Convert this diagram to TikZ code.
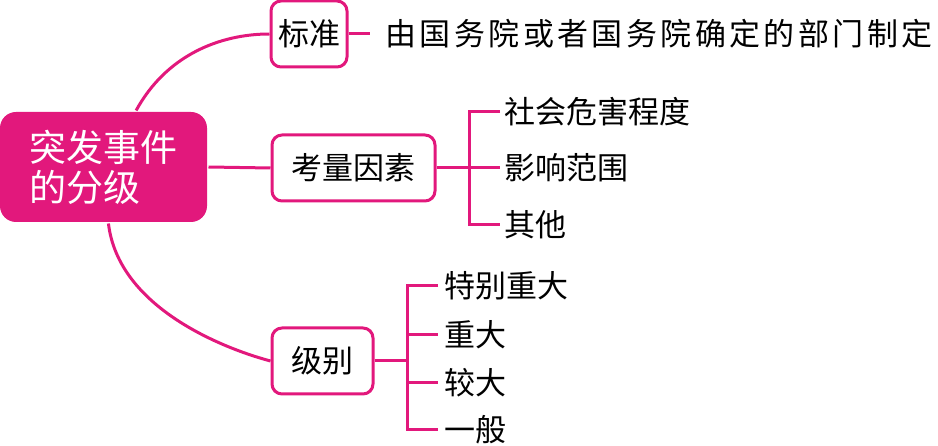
\documentclass[tikz,border=0pt]{standalone}
\usepackage{fontspec}
\newfontfamily\cjk{Noto Sans CJK SC}
\newfontfamily\cjkwide[LetterSpace=11]{Noto Sans CJK SC}
\usetikzlibrary{positioning}
\definecolor{rose}{HTML}{E2187C}

\begin{document}
\begin{tikzpicture}[x=1pt,y=-1pt,line width=3pt,draw=rose,
    topic/.style={draw=rose,rounded corners=10pt,fill=white,text=black,
      font=\cjk\fontsize{31}{36}\selectfont,inner sep=0pt,minimum height=66pt},
    leaf/.style={anchor=west,text=black,inner sep=0pt,
      font=\cjk\fontsize{31}{36}\selectfont}]
    \useasboundingbox (0,0) rectangle (938,446);

    % Root of the map
    \node[fill=rose,rounded corners=16pt,text=white,align=left,
      minimum width=207pt,minimum height=110pt,inner sep=0pt,
      font=\cjk\fontsize{37}{40}\selectfont] (root) at (103.5,167) {突发事件\\的分级};

    % Branch boxes
    \node[topic,minimum width=76pt] (std) at (309,34) {标准};
    \node[topic,minimum width=163pt] (fac) at (353.5,168) {考量因素};
    \node[topic,minimum width=101pt] (lvl) at (322.5,361) {级别};

    % Branches from the root
    \draw (root.60) .. controls +(30,-55) and +(-50,0) .. (std.west);
    \draw (root.east) -- (fac.west);
    \draw (root.-85) .. controls +(10,85) and +(-45,-12) .. (lvl.west);

    % Standard
    \node[leaf,font=\cjkwide\fontsize{31}{36}\selectfont] (rule) at (384,34) {由国务院或者国务院确定的部门制定};
    \draw (std.east) -- ([xshift=-14pt]rule.west);

    % Factors
    \node[leaf] (f1) at (503,112) {社会危害程度};
    \node[leaf] (f2) at (503,168) {影响范围};
    \node[leaf] (f3) at (503,225) {其他};
    \coordinate (fb) at (469,168);
    \draw (fac.east) -- (fb);
    \draw ([xshift=-3pt]f1.west) -- (f1.west -| fb) -- (f3.west -| fb) -- ([xshift=-3pt]f3.west);
    \draw (f2.west -| fb) -- ([xshift=-3pt]f2.west);

    % Levels
    \node[leaf] (l1) at (443,286) {特别重大};
    \node[leaf] (l2) at (443,335) {重大};
    \node[leaf] (l3) at (443,383) {较大};
    \node[leaf] (l4) at (443,430) {一般};
    \coordinate (lb) at (407,359);
    \draw (lvl.east) -- (lvl.east -| lb);
    \draw ([xshift=-5pt]l1.west) -- (l1.west -| lb) -- (l4.west -| lb) -- ([xshift=-5pt]l4.west);
    \foreach \i in {2,3}
      \draw (l\i.west -| lb) -- ([xshift=-5pt]l\i.west);
\end{tikzpicture}
\end{document}
